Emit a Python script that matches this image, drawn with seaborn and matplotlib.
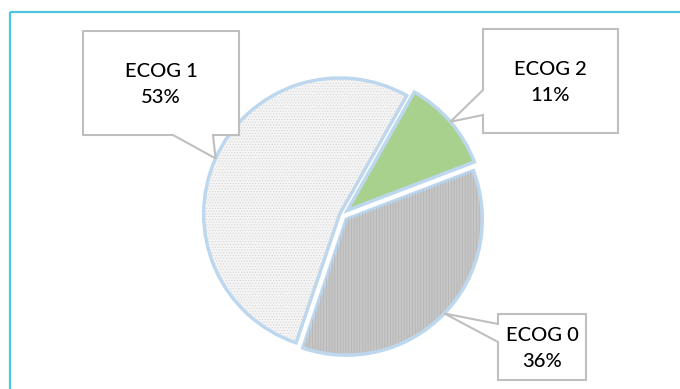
import numpy as np
import matplotlib
matplotlib.use("Agg")
import matplotlib.pyplot as plt
from matplotlib.patches import Polygon
import seaborn as sns

# ---- data ----
categories = ["ECOG 2", "ECOG 0", "ECOG 1"]
values = [11, 36, 53]
labels_pct = ["11%", "36%", "53%"]
colors = ["#a9d18e", "#c6c6c6", "#f5f5f5"]
hatch_colors = ["#a9d18e", "#b2b2b2", "#d5d5d5"]
hatches = [None, "||||||", "......"]

sns.set_theme(style="white")
plt.rcParams["font.family"] = ["Lato", "DejaVu Sans"]
plt.rcParams["hatch.linewidth"] = 0.5

W, H = 680, 389
fig = plt.figure(figsize=(W / 100, H / 100), dpi=100)
ax = fig.add_axes([0, 0, 1, 1])

def py(y):  # pixel-from-top to data y
    return H - y

cx, cy, r = 342, py(215), 136
explode_px = [7, 6, 2.5]  # slice offsets, in pixel units

wedges, _ = ax.pie(values, colors=colors, startangle=60.5, counterclock=False,
                   explode=explode_px, center=(cx, cy), radius=r, frame=True,
                   wedgeprops=dict(edgecolor="#bdd7ee", linewidth=2.5))
# texture overlay
wedges2, _ = ax.pie(values, colors=["none"] * 3, startangle=60.5, counterclock=False,
                    explode=explode_px, center=(cx, cy), radius=r * 0.985, frame=True,
                    wedgeprops=dict(linewidth=0))
for w, hc, ht in zip(wedges2, hatch_colors, hatches):
    w.set_facecolor("none")
    w.set_edgecolor(hc)
    w.set_linewidth(0)
    if ht:
        w.set_hatch(ht)
    else:
        w.set_visible(False)

ax.set_xlim(0, W)
ax.set_ylim(0, H)
ax.axis("off")

# frame lines
ax.plot([10, W], [py(12), py(12)], color="#4fc3e6", lw=1.6, solid_capstyle="butt")
ax.plot([10, 10], [py(12), 0], color="#4fc3e6", lw=1.6, solid_capstyle="butt")

def tip_of(w):
    mid = np.deg2rad((w.theta1 + w.theta2) / 2)
    x0, y0 = w.center
    return x0 + w.r * np.cos(mid), y0 + w.r * np.sin(mid)

# callout boxes: (left, top, right, bottom) in pixel coords, pointer base
boxes = {
    "ECOG 1": dict(box=(83, 31, 239, 135), side="bottom", base=(173, 213)),
    "ECOG 2": dict(box=(483, 29, 618, 133), side="left", base=(90, 115)),
    "ECOG 0": dict(box=(498, 314, 586, 380), side="left", base=(324, 342)),
}

for w, cat, pct in zip(wedges, categories, labels_pct):
    spec = boxes[cat]
    l, t, rr, b = spec["box"]
    tx, ty = tip_of(w)
    b1, b2 = spec["base"]
    if spec["side"] == "bottom":
        pts = [(l, py(t)), (rr, py(t)), (rr, py(b)), (b2, py(b)), (tx, ty),
               (b1, py(b)), (l, py(b))]
    else:
        pts = [(l, py(t)), (rr, py(t)), (rr, py(b)), (l, py(b)), (l, py(b2)),
               (tx, ty), (l, py(b1))]
    ax.add_patch(Polygon(pts, closed=True, facecolor="white", edgecolor="#bfbfbf",
                         lw=1.5, zorder=5, joinstyle="miter"))
    ax.text((l + rr) / 2, py((t + b) / 2 + 1.5), f"{cat}\n{pct}", ha="center", va="center",
            fontsize=14.5, fontweight="medium", color="#000000", linespacing=1.7, zorder=6)

fig.savefig("out.png", dpi=100)
